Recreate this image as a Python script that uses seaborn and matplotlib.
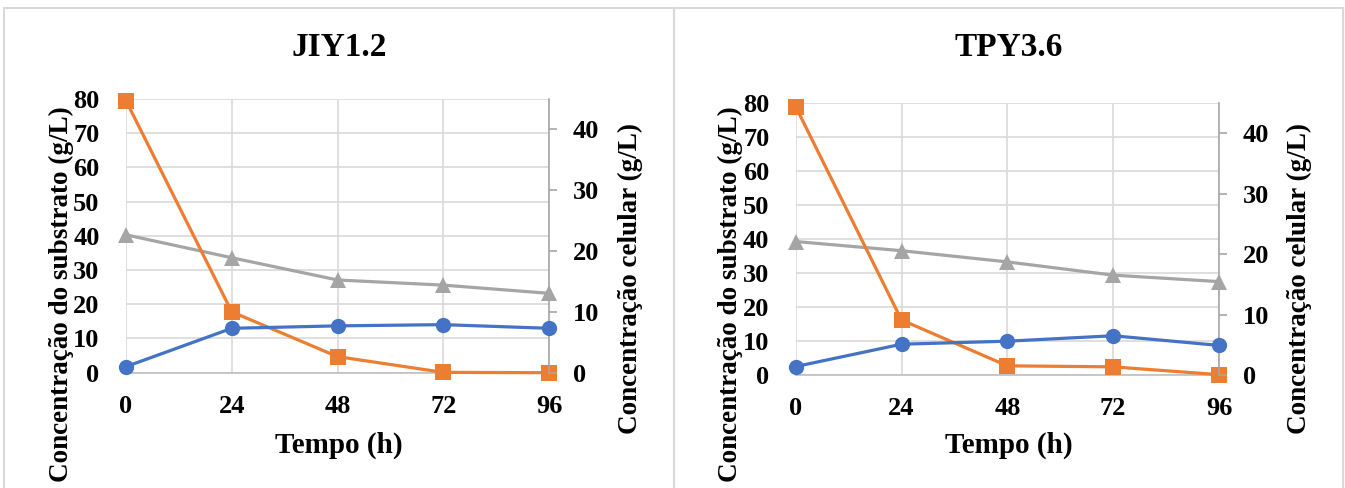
import matplotlib
matplotlib.use("Agg")
import pandas as pd
from matplotlib import pyplot as plt
from matplotlib.patches import Rectangle
import seaborn as sns

# tempo de fermentação (h)
tempo = [0, 24, 48, 72, 96]

# JIY1.2
jiy_substrato = [79.5, 17.8, 4.7, 0.1, 0.0]
jiy_cinza = [40.3, 33.6, 27.1, 25.6, 23.2]
jiy_celular = [1.0, 7.3, 7.7, 7.9, 7.3]

# TPY3.6
tpy_substrato = [79.0, 16.2, 2.7, 2.4, 0.1]
tpy_cinza = [39.3, 36.6, 33.3, 29.4, 27.5]
tpy_celular = [1.4, 5.1, 5.6, 6.5, 4.9]

titulos = ["JIY1.2", "TPY3.6"]
y_esq_ticks = [0, 10, 20, 30, 40, 50, 60, 70, 80]
y_dir_ticks = [0, 10, 20, 30, 40]

azul = "#4472C4"
laranja = "#ED7D31"
cinza = "#A5A5A5"
grade = "#D9D9D9"

sns.set_style("white")
plt.rcParams["font.family"] = ["Liberation Serif", "DejaVu Serif"]
plt.rcParams["font.weight"] = "bold"
plt.rcParams["text.color"] = "black"

W, H = 1345, 488
fig = plt.figure(figsize=(W / 100, H / 100), dpi=100)


def fx(px):
    return px / W


def fy(py):
    return 1 - py / H


# molduras dos dois painéis
for x0, x1 in [(4, 674), (674, 1343)]:
    fig.patches.append(Rectangle((fx(x0), fy(H + 20)), fx(x1 - x0), (H + 12) / H,
                                 transform=fig.transFigure, fill=False,
                                 edgecolor=grade, linewidth=1.5))

paineis = [
    (jiy_substrato, jiy_cinza, jiy_celular, 126, 99, 549, 372.7),
    (tpy_substrato, tpy_cinza, tpy_celular, 795.7, 103.3, 1219, 375),
]

for i, (subs, cz, cel, l, t, r, b) in enumerate(paineis):
    ax = fig.add_axes([fx(l), fy(b), fx(r - l), (b - t) / H])
    df = pd.DataFrame({"tempo": tempo, "substrato": subs, "cinza": cz, "celular": cel})

    sns.lineplot(data=df, x="tempo", y="cinza", ax=ax, color=cinza, marker="^",
                 markersize=12, linewidth=2.3, markeredgewidth=0, clip_on=False, zorder=3)
    sns.lineplot(data=df, x="tempo", y="substrato", ax=ax, color=laranja, marker="s",
                 markersize=11, linewidth=2.3, markeredgewidth=0, clip_on=False, zorder=4)

    ax.set_xlim(0, 96)
    ax.set_ylim(0, 80)
    ax.set_xticks(tempo)
    ax.set_yticks(y_esq_ticks)
    ax.grid(True, color=grade, linewidth=1.2)
    ax.set_axisbelow(True)
    for s in ["top", "right", "left"]:
        ax.spines[s].set_visible(False)
    ax.spines["bottom"].set_color("#BFBFBF")
    ax.spines["bottom"].set_linewidth(1.2)
    ax.tick_params(axis="y", length=0, pad=19, labelsize=19, labelcolor="black")
    ax.tick_params(axis="x", length=0, pad=16, labelsize=19, labelcolor="black")
    ax.set_xlabel("")
    ax.set_ylabel("")

    ax2 = ax.twinx()
    sns.lineplot(data=df, x="tempo", y="celular", ax=ax2, color=azul, marker="o",
                 markersize=11, linewidth=2.3, markeredgewidth=0, clip_on=False, zorder=5)
    ax2.set_ylim(0, 45)
    ax2.set_yticks(y_dir_ticks)
    ax2.set_xlim(0, 96)
    for s in ["top", "left", "bottom"]:
        ax2.spines[s].set_visible(False)
    ax2.spines["right"].set_color("#A6A6A6")
    ax2.spines["right"].set_linewidth(1.2)
    ax2.tick_params(axis="y", direction="out", length=6, width=1.2, color="#A6A6A6",
                    pad=11, labelsize=19, labelcolor="black")
    ax2.set_ylabel("")
    ax2.grid(False)

    dx = 0 if i == 0 else 669.7
    fig.text(fx(339 + dx), fy(47), titulos[i], ha="center", va="center",
             fontsize=24, fontweight="bold")
    fig.text(fx(339 + dx), fy(445), "Tempo (h)", ha="center", va="center",
             fontsize=21, fontweight="bold")
    fig.text(fx(61 + dx), fy(294), "Concentração do substrato (g/L)", ha="center",
             va="center", rotation=90, fontsize=19.5, fontweight="bold")
    fig.text(fx(630 + dx), fy(279), "Concentração celular (g/L)", ha="center",
             va="center", rotation=90, fontsize=19.5, fontweight="bold")

fig.savefig("out.png", dpi=100)
